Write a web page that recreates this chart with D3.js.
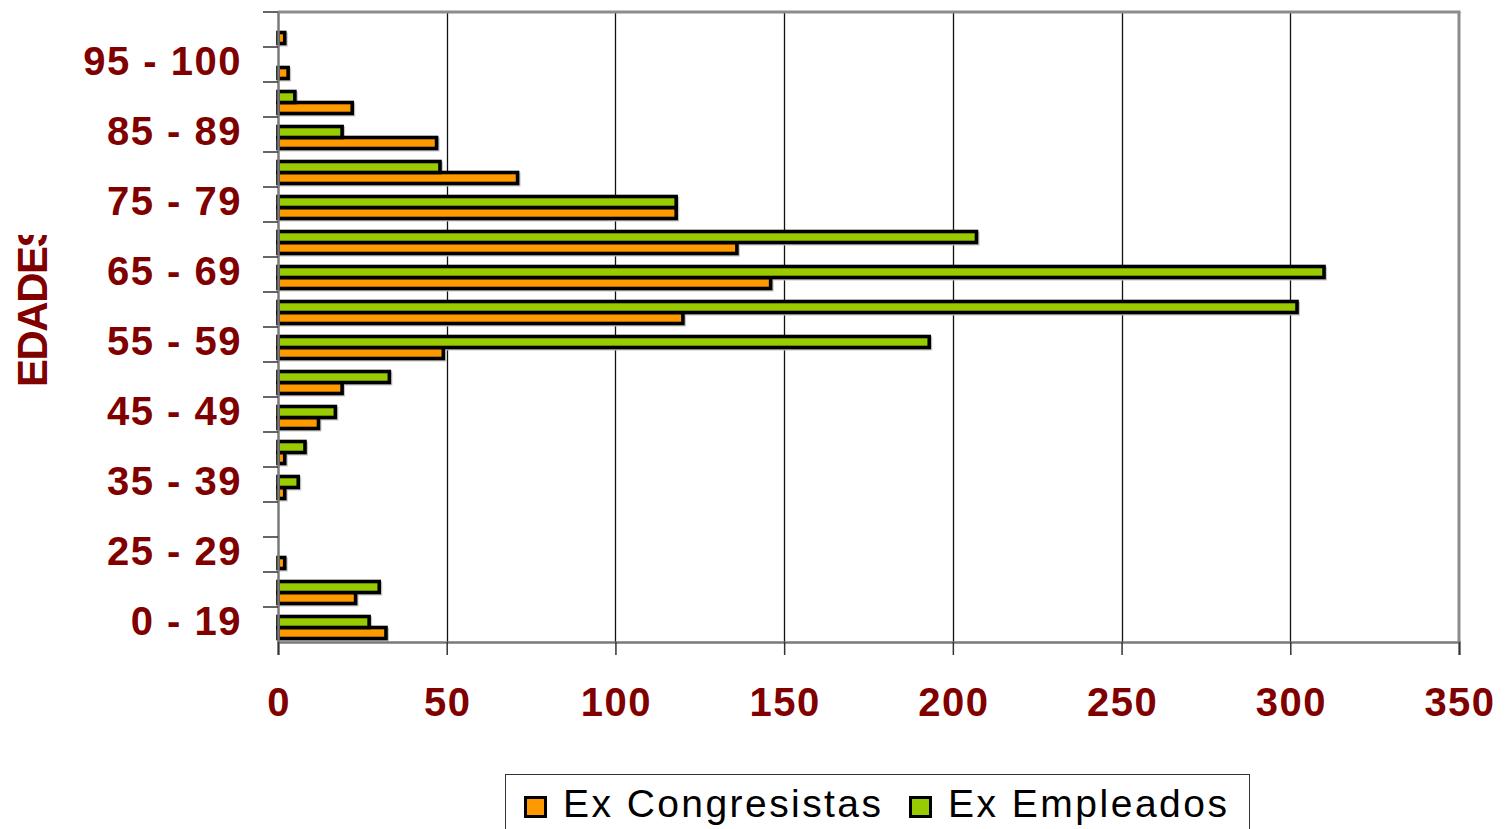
<!DOCTYPE html>
<html>
<head>
<meta charset="utf-8">
<script src="https://cdn.jsdelivr.net/npm/d3@7"></script>
<style>
  body { margin: 0; padding: 0; background: #fff; }
  svg { display: block; }
</style>
</head>
<body>
<div id="chart"></div>
<script>
// age groups, bottom to top; only every other one gets a label
var edades = ["0 - 19", "20 - 24", "25 - 29", "30 - 34", "35 - 39", "40 - 44",
  "45 - 49", "50 - 54", "55 - 59", "60 - 64", "65 - 69", "70 - 74",
  "75 - 79", "80 - 84", "85 - 89", "90 - 94", "95 - 100", "> 100"];

var exCongresistas = [32, 23, 2, 0, 2, 2, 12, 19, 49, 120, 146, 136, 118, 71, 47, 22, 3, 2];
var exEmpleados    = [27, 30, 0, 0, 6, 8, 17, 33, 193, 302, 310, 207, 118, 48, 19, 5, 0, 0];

var xTicks = [0, 50, 100, 150, 200, 250, 300, 350];

var series = [
  { name: "Ex Congresistas", values: exCongresistas, color: "#FF9900" },
  { name: "Ex Empleados",    values: exEmpleados,    color: "#99CC00" }
];

var W = 1507, H = 829;
var plotL = 278, plotR = 1459, plotT = 12, plotB = 642;
var red = "#800000";
var font = "Arial, 'Liberation Sans', sans-serif";

var svg = d3.select("#chart").append("svg")
  .attr("width", W).attr("height", H);

var x = d3.scaleLinear().domain([0, 350]).range([plotL, plotR]);
var y = d3.scaleBand().domain(edades.slice().reverse()).range([plotT, plotB]).padding(0);

// gridlines
svg.append("g").selectAll("line")
  .data(xTicks.slice(1, -1))
  .enter().append("line")
  .attr("x1", d => Math.round(x(d)) + 0.5).attr("x2", d => Math.round(x(d)) + 0.5)
  .attr("y1", plotT).attr("y2", plotB)
  .attr("stroke", "#111").attr("stroke-width", 1.3);

// bars: green on top, orange below, inside each band
var barH = 11;
var offs = [20.5, 9.5]; // orange, green
var bars = svg.append("g");
function rows(s) {
  return s.values.map((v, i) => ({ cat: edades[i], v: v })).filter(d => d.v > 0);
}
series.forEach(function(s, si) {
  // light shadow
  bars.selectAll(null).data(rows(s)).enter().append("rect")
    .attr("x", x(0) + 1.5)
    .attr("y", d => y(d.cat) + offs[si] + 1.5)
    .attr("width", d => x(d.v) - x(0))
    .attr("height", barH)
    .attr("fill", "none").attr("stroke", "#c4c4c4").attr("stroke-width", 3);
});
series.forEach(function(s, si) {
  bars.selectAll(null).data(rows(s)).enter().append("rect")
    .attr("x", x(0))
    .attr("y", d => y(d.cat) + offs[si])
    .attr("width", d => x(d.v) - x(0))
    .attr("height", barH)
    .attr("fill", s.color).attr("stroke", "#000").attr("stroke-width", 3.6);
});

// frame: top and right borders grey
svg.append("line").attr("x1", plotL).attr("x2", plotR + 1.5).attr("y1", plotT).attr("y2", plotT)
  .attr("stroke", "#8c8c8c").attr("stroke-width", 3);
svg.append("line").attr("x1", plotR).attr("x2", plotR).attr("y1", plotT).attr("y2", plotB)
  .attr("stroke", "#8c8c8c").attr("stroke-width", 3);

// y axis
var yAxis = d3.axisLeft(y).tickSize(0).tickFormat("");
var gy = svg.append("g").attr("transform", "translate(" + plotL + ",0)").call(yAxis);
gy.select(".domain").attr("stroke", "#7a7a7a").attr("stroke-width", 2.5);
// tick marks at band boundaries
svg.append("g").selectAll("line")
  .data(edades)
  .enter().append("line")
  .attr("x1", plotL - 15).attr("x2", plotL)
  .attr("y1", d => y(d)).attr("y2", d => y(d))
  .attr("stroke", "#333").attr("stroke-width", 1.5);
svg.append("g").selectAll("text")
  .data(edades.filter((d, i) => i % 2 === 0 && i < 17))
  .enter().append("text")
  .attr("x", 242)
  .attr("y", d => y(d) + y.bandwidth() / 2 + 10)
  .attr("text-anchor", "end")
  .attr("fill", red)
  .attr("font-family", font).attr("font-weight", "bold")
  .attr("font-size", 40).attr("letter-spacing", "1.5px")
  .text(d => d);

// x axis
var xAxis = d3.axisBottom(x).tickValues(xTicks).tickSize(13).tickFormat("");
var gx = svg.append("g").attr("transform", "translate(0," + plotB + ")").call(xAxis);
gx.select(".domain").attr("stroke", "#7a7a7a").attr("stroke-width", 2.5);
gx.selectAll(".tick line").attr("stroke", "#333").attr("stroke-width", 1.5);
svg.append("g").selectAll("text")
  .data(xTicks)
  .enter().append("text")
  .attr("x", d => x(d) + 1)
  .attr("y", 716)
  .attr("text-anchor", "middle")
  .attr("fill", red)
  .attr("font-family", font).attr("font-weight", "bold")
  .attr("font-size", 40).attr("letter-spacing", "1.5px")
  .text(d => d);

// axis title, clipped at top like the original
svg.append("clipPath").attr("id", "titleClip")
  .append("rect").attr("x", 0).attr("y", 235).attr("width", 80).attr("height", 200);
svg.append("g")
  .attr("clip-path", "url(#titleClip)")
  .append("text")
  .attr("transform", "translate(47,387) rotate(-90)")
  .attr("fill", red)
  .attr("font-family", font).attr("font-weight", "bold")
  .attr("font-size", 42).attr("letter-spacing", "-1.5px")
  .text("EDADES");

// legend
var lg = svg.append("g");
lg.append("rect").attr("x", 505.5).attr("y", 774.5).attr("width", 744).attr("height", 80)
  .attr("fill", "#fff").attr("stroke", "#333").attr("stroke-width", 1);
var legendX = [[524, 563, 318], [909, 948, 279]];
series.forEach(function(s, i) {
  lg.append("rect")
    .attr("x", legendX[i][0] + 1.5).attr("y", 797.5)
    .attr("width", 20).attr("height", 19)
    .attr("fill", s.color).attr("stroke", "#000").attr("stroke-width", 3);
  lg.append("text")
    .attr("x", legendX[i][1]).attr("y", 817)
    .attr("font-family", font).attr("font-size", 39)
    .attr("textLength", legendX[i][2]).attr("lengthAdjust", "spacing")
    .attr("fill", "#000")
    .text(s.name);
});
</script>
</body>
</html>
